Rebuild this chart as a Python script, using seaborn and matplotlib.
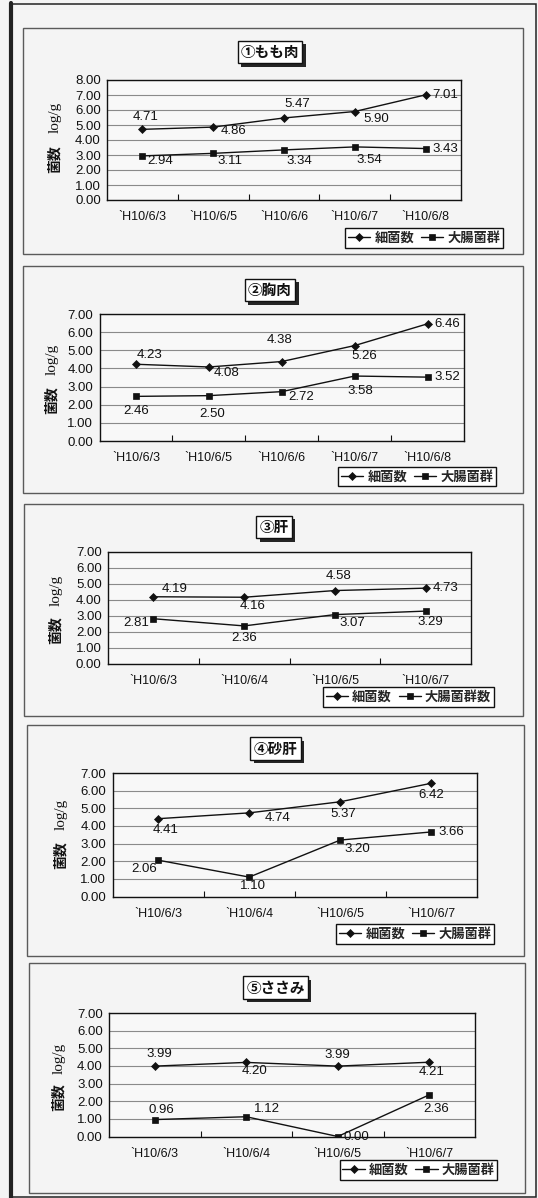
import matplotlib
matplotlib.use("Agg")
import matplotlib.pyplot as plt
import matplotlib.patheffects as pe
from matplotlib.patches import Rectangle
from matplotlib.lines import Line2D
import numpy as np
import seaborn as sns

sns.set_theme(style="white")
plt.rcParams["font.family"] = ["Liberation Sans", "Noto Sans CJK JP"]

# ---------------- data ----------------
dates_a = ["`H10/6/3", "`H10/6/5", "`H10/6/6", "`H10/6/7", "`H10/6/8"]
dates_b = ["`H10/6/3", "`H10/6/4", "`H10/6/5", "`H10/6/7"]

momo_bacteria = [4.71, 4.86, 5.47, 5.90, 7.01]
momo_coliform = [2.94, 3.11, 3.34, 3.54, 3.43]

mune_bacteria = [4.23, 4.08, 4.38, 5.26, 6.46]
mune_coliform = [2.46, 2.50, 2.72, 3.58, 3.52]

kimo_bacteria = [4.19, 4.16, 4.58, 4.73]
kimo_coliform = [2.81, 2.36, 3.07, 3.29]

sunagimo_bacteria = [4.41, 4.74, 5.37, 6.42]
sunagimo_coliform = [2.06, 1.10, 3.20, 3.66]

sasami_bacteria = [3.99, 4.20, 3.99, 4.21]
sasami_coliform = [0.96, 1.12, 0.00, 2.36]

titles = ["①もも肉", "②胸肉", "③肝", "④砂肝", "⑤ささみ"]
bacteria_name = "細菌数"
coliform_names = ["大腸菌群", "大腸菌群", "大腸菌群数", "大腸菌群", "大腸菌群"]
y_max = [8, 7, 7, 7, 7]
ylabel_top = "log/g"
ylabel_bottom = "菌数"

panels = [
    (dates_a, momo_bacteria, momo_coliform),
    (dates_a, mune_bacteria, mune_coliform),
    (dates_b, kimo_bacteria, kimo_coliform),
    (dates_b, sunagimo_bacteria, sunagimo_coliform),
    (dates_b, sasami_bacteria, sasami_coliform),
]

# ---------------- layout (pixels, origin top-left) ----------------
W, H = 538, 1198
PAGE = "#f4f4f4"
INK = "#111111"

layout = [
    dict(box=(23, 28, 523, 254), ax=(107, 80, 461, 200), title=(270, 52),
         ylab=(55, 117, 159), legend=(424, 238),
         bac_off=[(3, -12), (20, 4), (13, -14), (21, 8), (20, 0)],
         col_off=[(18, 5), (17, 8), (15, 11), (15, 13), (20, 0)]),
    dict(box=(23, 266, 523, 493), ax=(99.5, 314, 464, 441), title=(270, 290),
         ylab=(52, 359, 400), legend=(417, 476.5),
         bac_off=[(14, -9), (18, 6), (-2, -22), (10, 10), (20, 0)],
         col_off=[(0, 15), (3, 18), (19, 5), (6, 15), (20, 0)]),
    dict(box=(24, 504, 523, 716), ax=(108, 552, 471, 663.5), title=(274, 527),
         ylab=(56, 590, 630), legend=(408.5, 697),
         bac_off=[(21, -8), (9, 9), (4, -15), (20, 0)],
         col_off=[(-17, 4), (0, 12), (17, 8), (5, 11)]),
    dict(box=(27, 725, 524, 956), ax=(112.5, 773, 477, 896.5), title=(275.5, 748.5),
         ylab=(61, 814, 855), legend=(415, 934),
         bac_off=[(8, 11), (28, 5), (3, 12), (0, 12)],
         col_off=[(-14, 9), (4, 9), (17, 9), (20, 0)]),
    dict(box=(29, 963, 525, 1193), ax=(109, 1013, 475, 1136.5), title=(275.5, 987.5),
         ylab=(59, 1058, 1097), legend=(418.5, 1170),
         bac_off=[(5, -12), (8, 9), (0, -11), (2, 10)],
         col_off=[(7, -10), (21, -8), (19, 0), (7, 14)]),
]


def fx(px):
    return px / W


def fy(py):
    return 1 - py / H


fig = plt.figure(figsize=(W / 100, H / 100), dpi=100, facecolor=PAGE)


def fig_rect(x0, y0, x1, y1, **kw):
    r = Rectangle((fx(x0), fy(y1)), fx(x1) - fx(x0), fy(y0) - fy(y1),
                  transform=fig.transFigure, figure=fig, **kw)
    fig.patches.append(r)
    return r


# page frame
fig_rect(10, 4, 536, 1196.5, fill=False, ec="#222222", lw=1.1, zorder=-2)
fig.add_artist(Line2D([fx(11), fx(11)], [fy(3), fy(1198)], lw=3, color="#222222",
                      transform=fig.transFigure, zorder=-2))

for (dates, bac, col), lay, title, col_name, ymax in zip(panels, layout, titles,
                                                          coliform_names, y_max):
    bx0, by0, bx1, by1 = lay["box"]
    fig_rect(bx0, by0, bx1, by1, fc=PAGE, ec="#5a5a5a", lw=1.0, zorder=-1)

    x0, y0, x1, y1 = lay["ax"]
    ax = fig.add_axes([fx(x0), fy(y1), fx(x1) - fx(x0), fy(y0) - fy(y1)])
    ax.set_facecolor("#f8f8f8")

    sns.lineplot(x=dates, y=bac, marker="D", markersize=3.8, color=INK, lw=1.0,
                 markeredgecolor=INK, markeredgewidth=0.5, label=bacteria_name,
                 sort=False, ax=ax)
    sns.lineplot(x=dates, y=col, marker="s", markersize=4.6, color=INK, lw=1.0,
                 markeredgecolor=INK, markeredgewidth=0.5, label=col_name,
                 sort=False, ax=ax)

    n = len(dates)
    ax.set_xlim(-0.5, n - 0.5)
    ax.set_ylim(0, ymax)
    yt = list(range(0, ymax + 1))
    ax.set_yticks(yt)
    ax.set_yticklabels([f"{v:.2f}" for v in yt])
    ax.set_xticks(range(n))
    ax.set_xticklabels(dates)
    ax.set_xticks(np.arange(0.5, n - 1), minor=True)
    ax.tick_params(axis="x", which="major", length=0, pad=8, labelsize=9,
                   labelcolor=INK)
    ax.tick_params(axis="x", which="minor", direction="in", length=4, width=0.8,
                   color=INK, bottom=True)
    ax.tick_params(axis="y", length=0, pad=4.5, labelsize=9.5, labelcolor=INK)
    ax.set_xlabel("")
    ax.set_ylabel("")
    ax.grid(axis="y", color="#8a8a8a", lw=0.8)
    ax.set_axisbelow(True)
    for s in ax.spines.values():
        s.set_color(INK)
        s.set_linewidth(1.0)

    # value labels
    for i, v in enumerate(bac):
        dx, dy = lay["bac_off"][i]
        ax.annotate(f"{v:.2f}", xy=(i, v), xytext=(dx, -dy),
                    textcoords="offset pixels", ha="center", va="center",
                    fontsize=9.5, color=INK)
    for i, v in enumerate(col):
        dx, dy = lay["col_off"][i]
        ax.annotate(f"{v:.2f}", xy=(i, v), xytext=(dx, -dy),
                    textcoords="offset pixels", ha="center", va="center",
                    fontsize=9.5, color=INK)

    # title with drop shadow
    tx, ty = lay["title"]
    t = fig.text(fx(tx), fy(ty), title, ha="center", va="center", fontsize=10.5,
                 fontweight="bold", color=INK,
                 family=["Noto Sans CJK JP"],
                 bbox=dict(boxstyle="square,pad=0.22", fc="white", ec=INK, lw=1.0))
    t.get_bbox_patch().set_path_effects(
        [pe.SimplePatchShadow(offset=(2.5, -2.5), shadow_rgbFace="black", alpha=0.85),
         pe.Normal()])

    # vertical axis caption
    lx, ly_top, ly_bot = lay["ylab"]
    fig.text(fx(lx), fy(ly_top), ylabel_top, rotation=90, ha="center", va="center",
             fontsize=11, color=INK, family=["Liberation Serif"])
    fig.text(fx(lx), fy(ly_bot), ylabel_bottom, rotation=90, ha="center",
             va="center", fontsize=10, fontweight="bold", color=INK,
             family=["Noto Sans CJK JP"])

    # legend
    lcx, lcy = lay["legend"]
    handles, labels = ax.get_legend_handles_labels()
    leg = ax.legend(handles, labels, loc="center", bbox_to_anchor=(fx(lcx), fy(lcy)),
                    bbox_transform=fig.transFigure, ncol=2, frameon=True,
                    fancybox=False, framealpha=1, facecolor="white", edgecolor=INK,
                    handlelength=1.7, handletextpad=0.3, columnspacing=0.5,
                    borderpad=0.2, borderaxespad=0,
                    prop=dict(family=["Noto Sans CJK JP"], size=9.5, weight="bold"))
    leg.get_frame().set_linewidth(1.0)

fig.savefig("out.png", dpi=100, facecolor=PAGE)
